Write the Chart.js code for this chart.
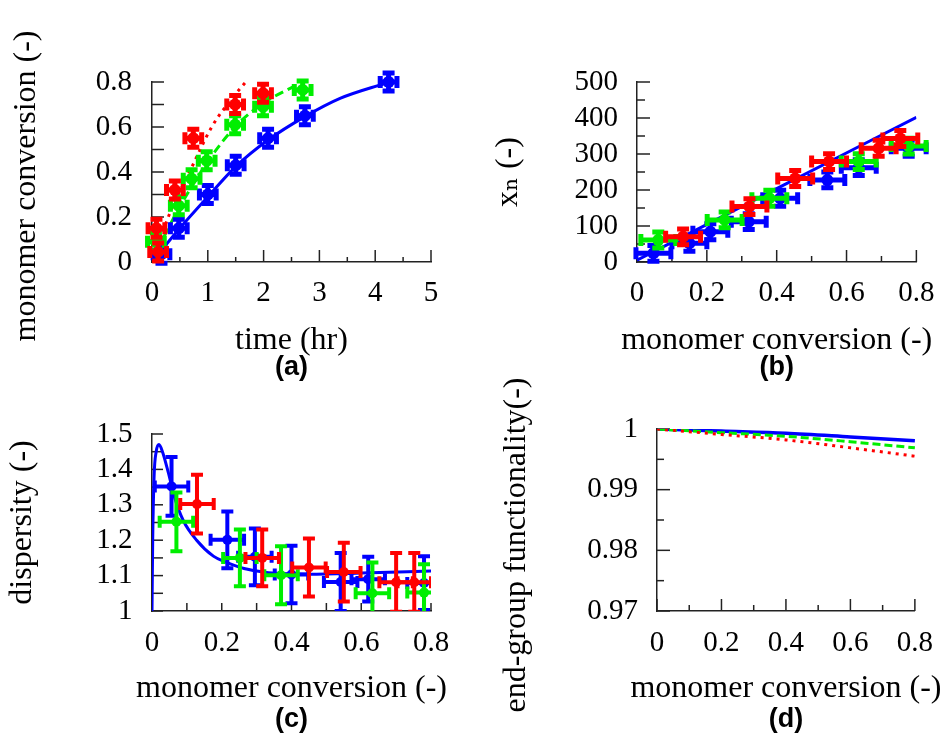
<!DOCTYPE html>
<html><head><meta charset="utf-8">
<script src="https://cdn.jsdelivr.net/npm/chart.js@4/dist/chart.umd.min.js"></script>
<style>
html,body{margin:0;padding:0;background:#fff;}
body{width:951px;height:735px;position:relative;overflow:hidden;}
canvas{position:absolute;}
</style></head><body>
<canvas id="ca" width="475" height="400" style="left:0;top:0"></canvas>
<canvas id="cb" width="476" height="400" style="left:475px;top:0"></canvas>
<canvas id="cc" width="475" height="335" style="left:0;top:400px"></canvas>
<canvas id="cd" width="476" height="375" style="left:475px;top:360px"></canvas>
<script>
// ================= DATA =================
// tick labels
const aXTickLabels = ['0','1','2','3','4','5'];
const aYTickLabels = ['0','0.2','0.4','0.6','0.8'];
const bYTickLabels = ['0','100','200','300','400','500'];
const convTickLabels = ['0','0.2','0.4','0.6','0.8'];
const cYTickLabels = ['1','1.1','1.2','1.3','1.4','1.5'];
const dYTickLabels = ['0.97','0.98','0.99','1'];

// (a) monomer conversion vs time (hr) - measured points
const aRedTime   = [0.11, 0.08, 0.41, 0.74, 1.49, 1.99];
const aRedConv   = [0.045, 0.15, 0.32, 0.55, 0.70, 0.75];
const aGreenTime = [0.07, 0.48, 0.71, 0.98, 1.49, 1.99, 2.70];
const aGreenConv = [0.09, 0.25, 0.37, 0.45, 0.61, 0.69, 0.765];
const aBlueTime  = [0.17, 0.48, 1.00, 1.50, 2.08, 2.74, 4.24];
const aBlueConv  = [0.035, 0.15, 0.30, 0.43, 0.55, 0.65, 0.80];
const aTimeErr = 0.15, aConvErr = 0.04;
// (a) model curves
const aBlueModelTime  = [0, 0.5, 1.0, 1.5, 2.08, 2.74, 3.37, 4.09, 4.2];
const aBlueModelConv  = [0, 0.151, 0.29, 0.424, 0.542, 0.646, 0.727, 0.787, 0.795];
const aGreenModelTime = [0, 0.25, 0.5, 0.98, 1.49, 1.99, 2.62];
const aGreenModelConv = [0, 0.13, 0.246, 0.439, 0.601, 0.705, 0.79];
const aRedModelTime   = [0, 0.32, 0.71, 1.07, 1.46, 1.67];
const aRedModelConv   = [0, 0.217, 0.42, 0.60, 0.735, 0.797];

// (b) x_n vs monomer conversion
const bRedConv   = [0.132, 0.322, 0.453, 0.55, 0.692, 0.754];
const bRedXn     = [70, 154, 232, 279, 316, 343];
const bGreenConv = [0.061, 0.251, 0.379, 0.635, 0.778];
const bGreenXn   = [61, 117, 177, 279, 322];
const bBlueConv  = [0.047, 0.15, 0.21, 0.32, 0.41, 0.545, 0.635, 0.778];
const bBlueXn    = [24, 52, 84, 112, 177, 228, 262, 316];
const bConvErr = 0.05, bXnErr = 22;
const bModelConv = [0, 0.4, 0.8];
const bModelXn   = [5, 204, 402];

// (c) dispersity vs monomer conversion
const cBlueConv  = [0.056, 0.216, 0.295, 0.40, 0.541, 0.62, 0.78];
const cBlueDisp  = [1.352, 1.201, 1.153, 1.103, 1.082, 1.09, 1.079];
const cBlueErr   = [0.083, 0.08, 0.08, 0.081, 0.082, 0.063, 0.076];
const cGreenConv = [0.07, 0.252, 0.37, 0.632, 0.78];
const cGreenDisp = [1.252, 1.15, 1.101, 1.05, 1.052];
const cGreenErr  = [0.083, 0.08, 0.082, 0.087, 0.08];
const cRedConv   = [0.129, 0.316, 0.45, 0.55, 0.70, 0.752];
const cRedDisp   = [1.302, 1.15, 1.123, 1.11, 1.081, 1.081];
const cRedErr    = [0.083, 0.08, 0.082, 0.083, 0.083, 0.083];
const cConvErr = 0.048;
const cModelConv = [0, 0.002, 0.006, 0.012, 0.02, 0.03, 0.047, 0.065, 0.09, 0.128, 0.176, 0.212, 0.264, 0.334, 0.45, 0.6, 0.8];
const cModelDisp = [1.0, 1.2, 1.38, 1.45, 1.47, 1.45, 1.39, 1.32, 1.255, 1.2, 1.155, 1.138, 1.12, 1.108, 1.104, 1.107, 1.113];

// (d) end-group functionality vs monomer conversion
const dConv  = [0, 0.2, 0.4, 0.6, 0.8];
const dBlue  = [1.0, 0.99965, 0.9993, 0.9987, 0.99807];
const dGreen = [1.0, 0.9994, 0.9988, 0.9979, 0.9969];
const dRed   = [1.0, 0.9991, 0.9982, 0.9969, 0.99552];

// ================= STYLE / HELPERS =================
const SERIF = "'Liberation Serif', 'DejaVu Serif', serif";
Chart.defaults.color = '#000';
Chart.defaults.font.family = SERIF;
const TICK_FONT  = {family:SERIF, size:29, lineHeight:1};
const TITLE_SIZE = 32;
const PANEL_FONT = {family:"'Liberation Sans', Arial, sans-serif", size:27, weight:'bold', lineHeight:1};
const BLUE = '#0000ff', GREEN = '#00ee00', RED = '#ff0000';
const AXIS_COLOR = '#222';

const toPts = (xs, ys) => xs.map((x, i) => ({x, y: ys[i]}));
const labelFrom = list => v => {
  const m = list.find(s => Math.abs(parseFloat(s) - v) < 1e-9);
  return m === undefined ? '' : m;
};

function xAxis(o) {
  return {
    type:'linear', position:'bottom', min:o.min, max:o.max,
    ticks:{stepSize:o.step, autoSkip:false, maxRotation:0, minRotation:0, padding:o.pad,
           font:TICK_FONT, color:'#000', callback:labelFrom(o.labels)},
    grid:{display:false, drawTicks:false},
    border:{display:true, color:AXIS_COLOR, width:1.5},
    title:{display:false},
    afterFit(s){ s.height = o.size; }
  };
}
function yAxis(o) {
  return {
    type:'linear', position:'left', min:o.min, max:o.max,
    ticks:{stepSize:o.step, autoSkip:false, padding:o.pad, font:TICK_FONT, color:'#000',
           callback:labelFrom(o.labels)},
    grid:{display:false, drawTicks:false},
    border:{display:true, color:AXIS_COLOR, width:1.5},
    title:{display:false},
    afterFit(s){ s.width = o.size; }
  };
}
function pointSet(xs, ys, color, xErr, yErr, r, errW, cap, errClip) {
  return {type:'scatter', data:toPts(xs, ys), backgroundColor:color, borderColor:color,
    pointRadius:r, pointHoverRadius:r, pointBorderWidth:0, showLine:false, clip:false,
    xErr, yErr, errWidth:errW, capSize:cap, errClip};
}
function lineSet(xs, ys, color, dash, width) {
  return {type:'scatter', data:toPts(xs, ys), borderColor:color, backgroundColor:color,
    showLine:true, pointRadius:0, pointHoverRadius:0, borderWidth:width, borderDash:dash,
    cubicInterpolationMode:'monotone', fill:false};
}

// error bars drawn from the data through the chart's own scales
const errorBars = {
  id:'errorBars',
  beforeDatasetDraw(chart, args) {
    const ds = chart.data.datasets[args.index];
    if (ds.xErr === undefined && ds.yErr === undefined) return;
    const xs = chart.scales.x, ys = chart.scales.y, ctx = chart.ctx, a = chart.chartArea;
    ctx.save();
    if (ds.errClip) { ctx.beginPath(); ctx.rect(a.left, a.top, a.right - a.left, a.bottom - a.top); ctx.clip(); }
    ctx.strokeStyle = ds.borderColor; ctx.lineWidth = ds.errWidth; ctx.lineCap = 'butt';
    const cap = ds.capSize;
    ds.data.forEach((p, i) => {
      const ex = Array.isArray(ds.xErr) ? ds.xErr[i] : ds.xErr;
      const ey = Array.isArray(ds.yErr) ? ds.yErr[i] : ds.yErr;
      const px = xs.getPixelForValue(p.x), py = ys.getPixelForValue(p.y);
      ctx.beginPath();
      if (ex) {
        const x1 = xs.getPixelForValue(p.x - ex), x2 = xs.getPixelForValue(p.x + ex);
        ctx.moveTo(x1, py); ctx.lineTo(x2, py);
        ctx.moveTo(x1, py - cap); ctx.lineTo(x1, py + cap);
        ctx.moveTo(x2, py - cap); ctx.lineTo(x2, py + cap);
      }
      if (ey) {
        const y1 = ys.getPixelForValue(p.y - ey), y2 = ys.getPixelForValue(p.y + ey);
        ctx.moveTo(px, y1); ctx.lineTo(px, y2);
        ctx.moveTo(px - cap, y1); ctx.lineTo(px + cap, y1);
        ctx.moveTo(px - cap, y2); ctx.lineTo(px + cap, y2);
      }
      ctx.stroke();
    });
    ctx.restore();
  }
};
// inward tick marks at the scale's own ticks (labelled = long, unlabelled = short)
const inwardTicks = {
  id:'inwardTicks',
  beforeDatasetsDraw(chart, args, o) {
    const ctx = chart.ctx, a = chart.chartArea, xs = chart.scales.x, ys = chart.scales.y;
    ctx.save(); ctx.strokeStyle = AXIS_COLOR; ctx.lineWidth = 1.5;
    xs.ticks.forEach((t, i) => {
      const len = t.label ? o.xMajor : o.xMinor, px = xs.getPixelForTick(i);
      ctx.beginPath(); ctx.moveTo(px, a.bottom); ctx.lineTo(px, a.bottom - len); ctx.stroke();
    });
    ys.ticks.forEach((t, i) => {
      const len = t.label ? o.yMajor : o.yMinor, py = ys.getPixelForTick(i);
      ctx.beginPath(); ctx.moveTo(a.left, py); ctx.lineTo(a.left + len, py); ctx.stroke();
    });
    ctx.restore();
  }
};
// axis names, placed relative to the chart area (drawn without width squeezing)
const axisTitles = {
  id:'axisTitles',
  afterDraw(chart, args, o) {
    const ctx = chart.ctx, a = chart.chartArea;
    ctx.save();
    ctx.font = TITLE_SIZE + 'px ' + SERIF;
    ctx.fillStyle = '#000'; ctx.textAlign = 'center'; ctx.textBaseline = 'middle';
    ctx.fillText(o.xText, (a.left + a.right) / 2, a.bottom + o.xGap);
    ctx.translate(o.yX, (a.top + a.bottom) / 2 + o.yShift);
    ctx.rotate(-Math.PI / 2);
    ctx.fillText(o.yText, 0, 0);
    ctx.restore();
  }
};

function build(id, datasets, scales, panel, padding, ticks, titles) {
  return new Chart(document.getElementById(id), {
    type:'scatter',
    data:{datasets},
    options:{
      responsive:false, animation:false, events:[],
      layout:{padding},
      scales,
      plugins:{
        legend:{display:false}, tooltip:{enabled:false},
        title:{display:true, text:panel, position:'bottom', fullSize:false, font:PANEL_FONT,
               color:'#000', padding:{top:0, bottom:0}},
        inwardTicks:ticks,
        axisTitles:titles
      }
    },
    plugins:[errorBars, inwardTicks, axisTitles]
  });
}

// ================= PANELS =================
build('ca', [
  pointSet(aRedTime, aRedConv, RED, aTimeErr, aConvErr, 6, 5, 6, false),
  pointSet(aGreenTime, aGreenConv, GREEN, aTimeErr, aConvErr, 6, 5, 6, false),
  pointSet(aBlueTime, aBlueConv, BLUE, aTimeErr, aConvErr, 6, 5, 6, false),
  lineSet(aRedModelTime, aRedModelConv, RED, [3,5], 3),
  lineSet(aGreenModelTime, aGreenModelConv, GREEN, [9,5], 3),
  lineSet(aBlueModelTime, aBlueModelConv, BLUE, [], 3)
], {
  x: xAxis({min:0, max:5, step:0.5, labels:aXTickLabels, pad:16.5, size:92}),
  y: yAxis({min:0, max:0.8, step:0.1, labels:aYTickLabels, pad:20, size:152})
}, '(a)', {left:0, top:82, right:44, bottom:19}, {xMajor:12, xMinor:5, yMajor:12, yMinor:12},
  {xText:'time (hr)', xGap:78.5, yText:'monomer conversion (-)', yX:27, yShift:14});

build('cb', [
  pointSet(bRedConv, bRedXn, RED, bConvErr, bXnErr, 6, 5, 6, false),
  pointSet(bGreenConv, bGreenXn, GREEN, bConvErr, bXnErr, 6, 5, 6, false),
  pointSet(bBlueConv, bBlueXn, BLUE, bConvErr, bXnErr, 6, 5, 6, false),
  lineSet(bModelConv, bModelXn, BLUE, [], 3)
], {
  x: xAxis({min:0, max:0.8, step:0.1, labels:convTickLabels, pad:16.5, size:92}),
  y: yAxis({min:0, max:500, step:50, labels:bYTickLabels, pad:19, size:162})
}, '(b)', {left:0, top:82, right:33, bottom:19}, {xMajor:12, xMinor:6, yMajor:13, yMinor:8},
  {xText:'monomer conversion (-)', xGap:78.5, yText:'x\u2099 (-)', yX:34, yShift:0});

build('cc', [
  pointSet(cRedConv, cRedDisp, RED, cConvErr, cRedErr, 5, 4, 6, true),
  pointSet(cGreenConv, cGreenDisp, GREEN, cConvErr, cGreenErr, 5, 4, 6, true),
  pointSet(cBlueConv, cBlueDisp, BLUE, cConvErr, cBlueErr, 5, 4, 6, true),
  lineSet(cModelConv, cModelDisp, BLUE, [], 3)
], {
  x: xAxis({min:0, max:0.8, step:0.1, labels:convTickLabels, pad:18, size:94.7}),
  y: yAxis({min:1, max:1.5, step:0.05, labels:cYTickLabels, pad:19.5, size:152})
}, '(c)', {left:0, top:30, right:44, bottom:2.3}, {xMajor:8, xMinor:8, yMajor:11, yMinor:11},
  {xText:'monomer conversion (-)', xGap:78, yText:'dispersity (-)', yX:23, yShift:0});

build('cd', [
  lineSet(dConv, dRed, RED, [3,5], 3),
  lineSet(dConv, dGreen, GREEN, [8,4], 3),
  lineSet(dConv, dBlue, BLUE, [], 3.5)
], {
  x: xAxis({min:0, max:0.8, step:0.1, labels:convTickLabels, pad:18, size:94.7}),
  y: yAxis({min:0.97, max:1, step:0.005, labels:dYTickLabels, pad:19, size:182})
}, '(d)', {left:0, top:69, right:33, bottom:2.3}, {xMajor:12, xMinor:6, yMajor:13, yMinor:7},
  {xText:'monomer conversion (-)', xGap:78, yText:'end-group functionality(-)', yX:42, yShift:25});
</script>
</body></html>
